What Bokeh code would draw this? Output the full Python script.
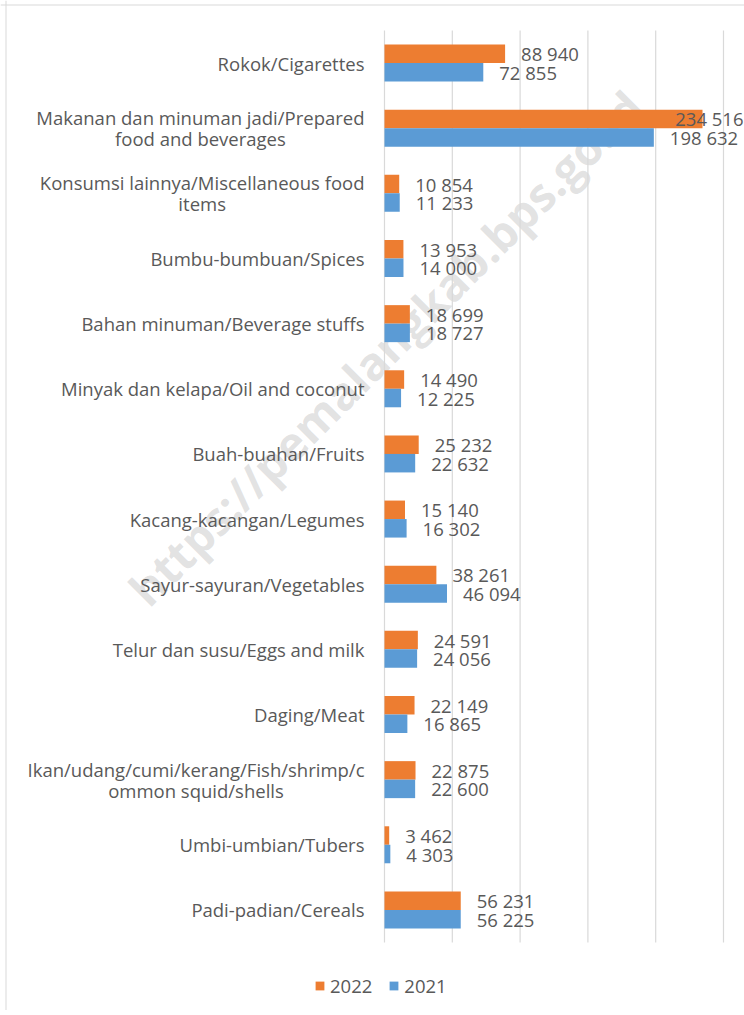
import numpy as np
from bokeh.plotting import figure
from bokeh.models import (ColumnDataSource, Range1d, Legend, LegendItem, Label, Span)
from bokeh.core.properties import value
from bokeh.embed import file_html
from bokeh.resources import INLINE

# ---------------- data (top to bottom as displayed) ----------------
categories = [
    "Rokok/Cigarettes",
    "Makanan dan minuman jadi/Prepared\nfood and beverages",
    "Konsumsi lainnya/Miscellaneous food\nitems",
    "Bumbu-bumbuan/Spices",
    "Bahan minuman/Beverage stuffs",
    "Minyak dan kelapa/Oil and coconut",
    "Buah-buahan/Fruits",
    "Kacang-kacangan/Legumes",
    "Sayur-sayuran/Vegetables",
    "Telur dan susu/Eggs and milk",
    "Daging/Meat",
    "Ikan/udang/cumi/kerang/Fish/shrimp/c\nommon squid/shells",
    "Umbi-umbian/Tubers",
    "Padi-padian/Cereals",
]
values_2022 = [88940, 234516, 10854, 13953, 18699, 14490, 25232, 15140,
               38261, 24591, 22149, 22875, 3462, 56231]
values_2021 = [72855, 198632, 11233, 14000, 18727, 12225, 22632, 16302,
               46094, 24056, 16865, 22600, 4303, 56225]
series_names = ["2022", "2021"]
grid_ticks = [0, 50000, 100000, 150000, 200000, 250000]
watermark = "https://pemalangkab.bps.go.id"

# ---------------- style ----------------
FONT = "Open Sans"
TXT = "#595959"
ORANGE = "#ED7D31"
BLUE = "#5B9BD5"
GRID = "#D9D9D9"
FS = "18.5px"
BAR_H = 0.284
W, H = 744, 1010
# value axis spans the whole canvas width; category band spans rows -0.5..n-0.5
X_START, X_END = -283190, 265490
n = len(categories)
Y_START, Y_END = -0.5 - 1.044, n - 0.5 + 0.4605

def fmt(v):
    return f"{v:,}".replace(",", " ")

def label_cols(vals):
    vals = np.asarray(vals)
    over = vals > 0.8 * X_END
    return (np.where(over, X_END, vals).tolist(),
            np.where(over, "right", "left").tolist(),
            np.where(over, -1, 16).tolist(),
            [fmt(v) for v in vals])

ypos = np.arange(n)[::-1].astype(float)
lx22, la22, lo22, lt22 = label_cols(values_2022)
lx21, la21, lo21, lt21 = label_cols(values_2021)
src = ColumnDataSource(dict(
    cat=categories, y=ypos, y22=ypos + BAR_H / 2, y21=ypos - BAR_H / 2,
    zero=[0] * n, v22=values_2022, v21=values_2021,
    lx22=lx22, la22=la22, lo22=lo22, lt22=lt22,
    lx21=lx21, la21=la21, lo21=lo21, lt21=lt21,
))
grid_src = ColumnDataSource(dict(x=grid_ticks,
                                 y0=[-0.5] * len(grid_ticks),
                                 y1=[n - 0.5] * len(grid_ticks)))

p = figure(width=W, height=H,
           x_range=Range1d(X_START, X_END), y_range=Range1d(Y_START, Y_END),
           output_backend="svg", toolbar_location=None,
           min_border=0)
p.axis.visible = False
p.grid.visible = False
p.outline_line_color = None

# watermark (behind the bars)
p.add_layout(Label(x=385, y=H - 347, x_units="screen", y_units="screen",
                   text=watermark, angle=45, angle_units="deg",
                   text_align="center", text_baseline="middle",
                   text_font=FONT, text_font_style="bold",
                   text_font_size="46px", text_color="#a6a6a6",
                   text_alpha=0.33, level="underlay"))

# chart-area border (left and top edges)
p.add_layout(Span(location=5.5, location_units="screen", dimension="height",
                  line_color=GRID, line_width=1))
p.add_layout(Span(location=H - 4.5, location_units="screen", dimension="width",
                  line_color=GRID, line_width=1))

# value gridlines (incl. the category axis line at 0)
p.segment(x0="x", x1="x", y0="y0", y1="y1", source=grid_src,
          line_color=GRID, line_width=1.2)

r22 = p.hbar(y="y22", left="zero", right="v22", height=BAR_H, source=src,
             fill_color=ORANGE, line_color=None)
r21 = p.hbar(y="y21", left="zero", right="v21", height=BAR_H, source=src,
             fill_color=BLUE, line_color=None)

common = dict(source=src, text_baseline="middle", text_font=value(FONT),
              text_font_size=FS, text_color=TXT)
p.text(x="lx22", y="y22", text="lt22", text_align="la22", x_offset="lo22", **common)
p.text(x="lx21", y="y21", text="lt21", text_align="la21", x_offset="lo21", **common)

# category labels: right edge 20px left of the axis, lines centred in the block
p.text(x="zero", y="y", text="cat", source=src, x_offset=-20,
       anchor="center_right", text_align="center", text_baseline="middle",
       text_line_height=0.84, text_font=value(FONT), text_font_size=FS,
       text_color=TXT)

# legend
legend = Legend(items=[LegendItem(label=series_names[0], renderers=[r22]),
                       LegendItem(label=series_names[1], renderers=[r21])],
                orientation="horizontal", location=(314, 12),
                glyph_width=11, glyph_height=11, label_standoff=5, spacing=16,
                padding=0, margin=0, border_line_color=None,
                background_fill_alpha=0, label_height=22,
                label_text_font=FONT, label_text_font_size=FS,
                label_text_color=TXT)
p.add_layout(legend, "center")

open("out.html", "w").write(file_html(p, INLINE))
